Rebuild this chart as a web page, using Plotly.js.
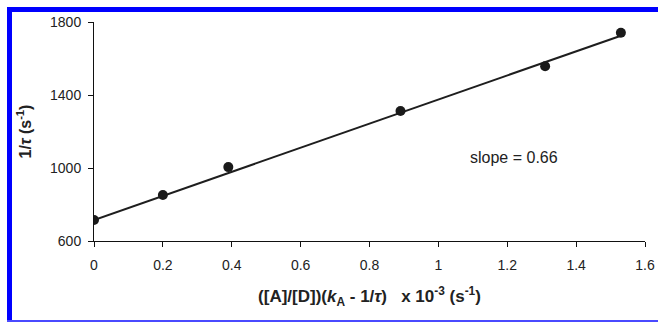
<!DOCTYPE html>
<html>
<head>
<meta charset="utf-8">
<script src="https://cdn.plot.ly/plotly-3.0.1.min.js"></script>
<style>html,body{margin:0;padding:0;background:#fff;}#chart{width:658px;height:323px;}</style>
</head>
<body>
<div id="chart"></div>
<script>
// Data
const xData = [0, 0.2, 0.39, 0.89, 1.31, 1.53];
const yData = [715, 852, 1005, 1312, 1558, 1741];
const fitX = [0, 1.53];
const fitY = [715, 1725];
const xTicks = [0, 0.2, 0.4, 0.6, 0.8, 1, 1.2, 1.4, 1.6];
const xTickText = ['0', '0.2', '0.4', '0.6', '0.8', '1', '1.2', '1.4', '1.6'];
const yTicks = [600, 1000, 1400, 1800];
const slopeLabel = 'slope = 0.66';

const W = 658, H = 323;
const M = {l: 94, r: 13, t: 22, b: 82};
const pw = W - M.l - M.r, ph = H - M.t - M.b;
const px = v => (v - M.l) / pw;
const py = v => (H - M.b - v) / ph;

const font = 'Liberation Sans, Arial, sans-serif';

const traces = [
  {x: fitX, y: fitY, mode: 'lines', line: {color: '#1e1e1e', width: 2}, hoverinfo: 'skip', showlegend: false},
  {x: xData, y: yData, mode: 'markers', marker: {color: '#1a1a1a', size: 10}, showlegend: false}
];

const layout = {
  width: W, height: H,
  margin: M,
  paper_bgcolor: '#fff', plot_bgcolor: '#fff',
  font: {family: font, color: '#222', size: 14},
  showlegend: false,
  xaxis: {
    range: [0, 1.6], tickvals: xTicks, ticktext: xTickText,
    showgrid: false, zeroline: false, showline: true, linecolor: '#111', linewidth: 1,
    ticks: 'outside', ticklen: 5, tickcolor: '#111', ticklabelstandoff: 6,
    tickfont: {size: 14, family: font, color: '#222'},
    title: {text: '<b>([A]/[D])(<i>k</i><sub>A</sub> - 1/<i>τ</i>)   x 10<sup>-3</sup> (s<sup>-1</sup>)</b>', font: {size: 17, family: font, color: '#222'}, standoff: 18}
  },
  yaxis: {
    range: [600, 1800], tickvals: yTicks,
    showgrid: false, zeroline: false, showline: true, linecolor: '#111', linewidth: 1,
    ticks: 'outside', ticklen: 5, tickcolor: '#111', ticklabelstandoff: 4,
    tickfont: {size: 14, family: font, color: '#222'},
    title: {text: '<b>1/<i>τ</i> (s<sup>-1</sup>)</b>', font: {size: 16, family: font, color: '#222'}, standoff: 14}
  },
  annotations: [
    {x: 1.22, y: 1060, xref: 'x', yref: 'y', text: slopeLabel, showarrow: false,
     font: {size: 16, family: font, color: '#222'}}
  ],
  shapes: [
    {type: 'rect', xref: 'paper', yref: 'paper', x0: px(7), x1: px(12), y0: py(7), y1: py(321), fillcolor: '#0000ff', line: {width: 0}, layer: 'above'},
    {type: 'rect', xref: 'paper', yref: 'paper', x0: px(7), x1: px(658), y0: py(7), y1: py(12), fillcolor: '#0000ff', line: {width: 0}, layer: 'above'},
    {type: 'rect', xref: 'paper', yref: 'paper', x0: px(7), x1: px(658), y0: py(320), y1: py(322), fillcolor: '#4a4aff', line: {width: 0}, layer: 'above'}
  ]
};

Plotly.newPlot('chart', traces, layout, {displayModeBar: false, staticPlot: true});
</script>
</body>
</html>
